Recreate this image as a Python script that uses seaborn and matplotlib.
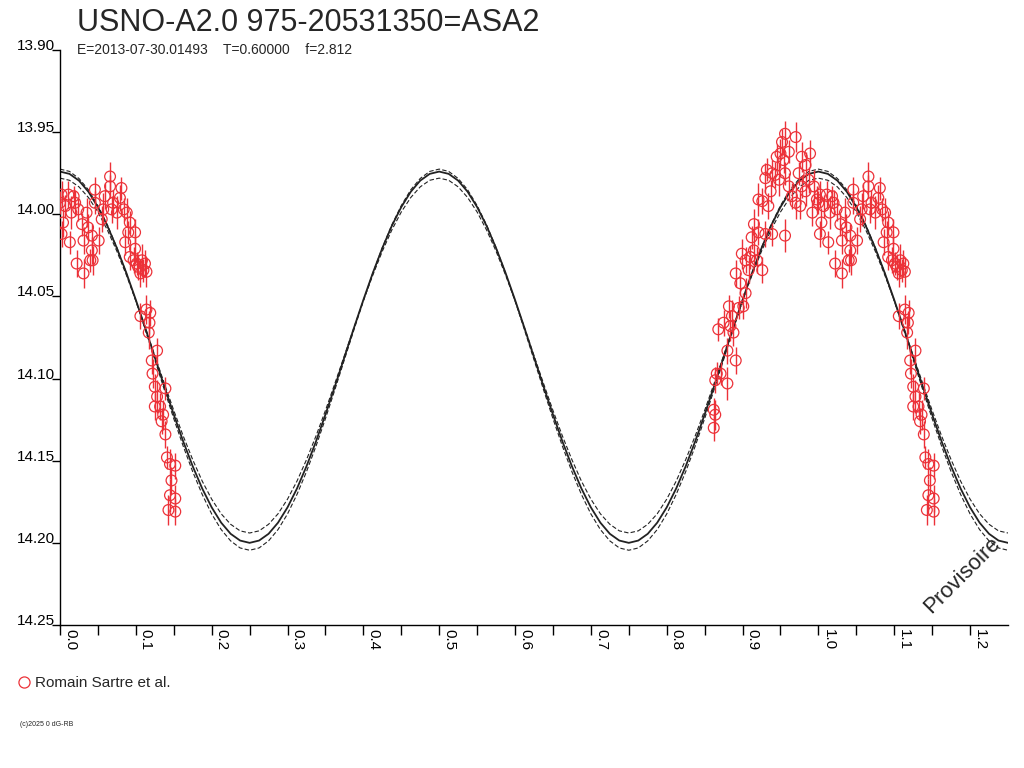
import matplotlib
matplotlib.use('Agg')
import matplotlib.pyplot as plt
import matplotlib.transforms as mtransforms
from matplotlib.lines import Line2D
import seaborn as sns
import numpy as np

# --- observations (phase, magnitude, error) ---
# points seen between phase 0.00 and 0.15 (also drawn again at +1)
phase_early = [0.000, 0.002, 0.011, 0.018, 0.004, 0.002, 0.013, 0.020, 0.015, 0.024,
               0.029, 0.035, 0.037, 0.031, 0.042, 0.022, 0.031, 0.040, 0.043, 0.046,
               0.046, 0.051, 0.057, 0.059, 0.066, 0.066, 0.070, 0.068, 0.075, 0.081,
               0.079, 0.084, 0.088, 0.092, 0.099, 0.086, 0.090, 0.099, 0.092, 0.097,
               0.101, 0.108, 0.112, 0.106, 0.110, 0.114, 0.103, 0.055, 0.007, 0.042,
               0.106, 0.114, 0.119, 0.118, 0.117, 0.128, 0.121, 0.122, 0.125, 0.139,
               0.128, 0.125, 0.132, 0.136, 0.134, 0.139, 0.141, 0.145, 0.152, 0.147,
               0.145, 0.152, 0.143, 0.152]
mag_early = [13.993, 13.988, 13.988, 13.989, 14.005, 14.012, 14.017, 13.993, 13.999, 13.997,
             14.006, 13.999, 14.008, 14.016, 14.013, 14.030, 14.036, 14.028, 14.028, 13.985,
             13.993, 14.016, 13.997, 13.989, 13.977, 13.983, 13.993, 13.997, 13.999, 13.984,
             13.990, 13.997, 13.999, 14.005, 14.011, 14.017, 14.011, 14.021, 14.026, 14.028,
             14.030, 14.028, 14.030, 14.036, 14.034, 14.035, 14.032, 14.003, 13.995, 14.022,
             14.062, 14.058, 14.060, 14.066, 14.072, 14.083, 14.089, 14.097, 14.105, 14.106,
             14.111, 14.117, 14.117, 14.122, 14.126, 14.134, 14.148, 14.152, 14.153, 14.162,
             14.171, 14.173, 14.180, 14.181]
err_early = [0.007, 0.008, 0.008, 0.006, 0.009, 0.008, 0.007, 0.008, 0.010, 0.007,
             0.007, 0.009, 0.008, 0.008, 0.007, 0.008, 0.009, 0.007, 0.009, 0.008,
             0.007, 0.008, 0.010, 0.008, 0.009, 0.007, 0.008, 0.008, 0.010, 0.007,
             0.008, 0.007, 0.009, 0.007, 0.008, 0.008, 0.007, 0.009, 0.008, 0.008,
             0.007, 0.010, 0.008, 0.008, 0.007, 0.009, 0.008, 0.008, 0.007, 0.008,
             0.008, 0.009, 0.008, 0.007, 0.010, 0.008, 0.008, 0.009, 0.008, 0.007,
             0.010, 0.008, 0.008, 0.009, 0.008, 0.008, 0.007, 0.009, 0.008, 0.008,
             0.010, 0.008, 0.009, 0.008]

# points seen between phase 0.86 and 1.00
phase_late = [0.862, 0.862, 0.864, 0.866, 0.864, 0.871, 0.880, 0.868, 0.875, 0.880,
              0.884, 0.882, 0.888, 0.891, 0.886, 0.895, 0.901, 0.904, 0.891, 0.897,
              0.908, 0.899, 0.904, 0.910, 0.915, 0.919, 0.926, 0.912, 0.915, 0.921,
              0.930, 0.939, 0.921, 0.926, 0.934, 0.930, 0.932, 0.939, 0.943, 0.948,
              0.937, 0.945, 0.950, 0.954, 0.961, 0.956, 0.952, 0.956, 0.970, 0.956,
              0.961, 0.965, 0.970, 0.974, 0.978, 0.983, 0.989, 0.978, 0.983, 0.976,
              0.987, 0.994, 0.992, 0.998]
mag_late = [14.130, 14.119, 14.122, 14.097, 14.101, 14.097, 14.103, 14.070, 14.066, 14.083,
            14.068, 14.056, 14.072, 14.089, 14.062, 14.057, 14.056, 14.048, 14.036, 14.042,
            14.034, 14.024, 14.028, 14.026, 14.022, 14.028, 14.034, 14.014, 14.006, 14.011,
            14.012, 14.012, 13.991, 13.992, 13.995, 13.978, 13.973, 13.975, 13.976, 13.979,
            13.986, 13.965, 13.963, 13.967, 13.962, 14.013, 13.956, 13.951, 13.953, 13.975,
            13.983, 13.989, 13.993, 13.975, 13.965, 13.970, 13.963, 13.983, 13.986, 13.995,
            13.979, 13.983, 13.999, 13.991]
err_late = [0.008, 0.007, 0.009, 0.007, 0.008, 0.007, 0.010, 0.007, 0.008, 0.008,
            0.009, 0.007, 0.008, 0.008, 0.010, 0.007, 0.008, 0.009, 0.008, 0.007,
            0.008, 0.009, 0.008, 0.007, 0.010, 0.008, 0.008, 0.007, 0.009, 0.008,
            0.008, 0.007, 0.010, 0.008, 0.008, 0.009, 0.007, 0.008, 0.008, 0.010,
            0.007, 0.008, 0.009, 0.008, 0.007, 0.010, 0.008, 0.008, 0.009, 0.007,
            0.008, 0.008, 0.010, 0.007, 0.009, 0.008, 0.008, 0.007, 0.009, 0.008,
            0.008, 0.010, 0.008, 0.008]

# --- model curves (every 0.0125 in phase, 0 .. 1.25) ---
model_phase = [0.0000, 0.0125, 0.0250, 0.0375, 0.0500, 0.0625, 0.0750, 0.0875, 0.1000, 0.1125,
               0.1250, 0.1375, 0.1500, 0.1625, 0.1750, 0.1875, 0.2000, 0.2125, 0.2250, 0.2375,
               0.2500, 0.2625, 0.2750, 0.2875, 0.3000, 0.3125, 0.3250, 0.3375, 0.3500, 0.3625,
               0.3750, 0.3875, 0.4000, 0.4125, 0.4250, 0.4375, 0.4500, 0.4625, 0.4750, 0.4875,
               0.5000, 0.5125, 0.5250, 0.5375, 0.5500, 0.5625, 0.5750, 0.5875, 0.6000, 0.6125,
               0.6250, 0.6375, 0.6500, 0.6625, 0.6750, 0.6875, 0.7000, 0.7125, 0.7250, 0.7375,
               0.7500, 0.7625, 0.7750, 0.7875, 0.8000, 0.8125, 0.8250, 0.8375, 0.8500, 0.8625,
               0.8750, 0.8875, 0.9000, 0.9125, 0.9250, 0.9375, 0.9500, 0.9625, 0.9750, 0.9875,
               1.0000, 1.0125, 1.0250, 1.0375, 1.0500, 1.0625, 1.0750, 1.0875, 1.1000, 1.1125,
               1.1250, 1.1375, 1.1500, 1.1625, 1.1750, 1.1875, 1.2000, 1.2125, 1.2250, 1.2375,
               1.2500]
# solid (central) curve
model_mid = [13.9740, 13.9754, 13.9795, 13.9863, 13.9956, 14.0071, 14.0206, 14.0357, 14.0521, 14.0693,
             14.0870, 14.1047, 14.1219, 14.1383, 14.1534, 14.1669, 14.1784, 14.1877, 14.1945, 14.1986,
             14.2000, 14.1986, 14.1945, 14.1877, 14.1784, 14.1669, 14.1534, 14.1383, 14.1219, 14.1047,
             14.0870, 14.0693, 14.0521, 14.0357, 14.0206, 14.0071, 13.9956, 13.9863, 13.9795, 13.9754,
             13.9740, 13.9754, 13.9795, 13.9863, 13.9956, 14.0071, 14.0206, 14.0357, 14.0521, 14.0693,
             14.0870, 14.1047, 14.1219, 14.1383, 14.1534, 14.1669, 14.1784, 14.1877, 14.1945, 14.1986,
             14.2000, 14.1986, 14.1945, 14.1877, 14.1784, 14.1669, 14.1534, 14.1383, 14.1219, 14.1047,
             14.0870, 14.0693, 14.0521, 14.0357, 14.0206, 14.0071, 13.9956, 13.9863, 13.9795, 13.9754,
             13.9740, 13.9754, 13.9795, 13.9863, 13.9956, 14.0071, 14.0206, 14.0357, 14.0521, 14.0693,
             14.0870, 14.1047, 14.1219, 14.1383, 14.1534, 14.1669, 14.1784, 14.1877, 14.1945, 14.1986,
             14.2000]
# dashed envelope, wide
model_hi = [13.9725, 13.9739, 13.9782, 13.9851, 13.9947, 14.0065, 14.0203, 14.0358, 14.0527, 14.0704,
            14.0885, 14.1067, 14.1244, 14.1412, 14.1567, 14.1705, 14.1824, 14.1919, 14.1988, 14.2031,
            14.2045, 14.2031, 14.1988, 14.1919, 14.1824, 14.1705, 14.1567, 14.1412, 14.1244, 14.1067,
            14.0885, 14.0704, 14.0527, 14.0358, 14.0203, 14.0065, 13.9947, 13.9851, 13.9782, 13.9739,
            13.9725, 13.9739, 13.9782, 13.9851, 13.9947, 14.0065, 14.0203, 14.0358, 14.0527, 14.0704,
            14.0885, 14.1067, 14.1244, 14.1412, 14.1567, 14.1705, 14.1824, 14.1919, 14.1988, 14.2031,
            14.2045, 14.2031, 14.1988, 14.1919, 14.1824, 14.1705, 14.1567, 14.1412, 14.1244, 14.1067,
            14.0885, 14.0704, 14.0527, 14.0358, 14.0203, 14.0065, 13.9947, 13.9851, 13.9782, 13.9739,
            13.9725, 13.9739, 13.9782, 13.9851, 13.9947, 14.0065, 14.0203, 14.0358, 14.0527, 14.0704,
            14.0885, 14.1067, 14.1244, 14.1412, 14.1567, 14.1705, 14.1824, 14.1919, 14.1988, 14.2031,
            14.2045]
# dashed envelope, narrow
model_lo = [13.9780, 13.9793, 13.9833, 13.9898, 13.9986, 14.0096, 14.0225, 14.0370, 14.0526, 14.0691,
            14.0860, 14.1029, 14.1194, 14.1350, 14.1494, 14.1624, 14.1734, 14.1823, 14.1887, 14.1927,
            14.1940, 14.1927, 14.1887, 14.1823, 14.1734, 14.1624, 14.1494, 14.1350, 14.1194, 14.1029,
            14.0860, 14.0691, 14.0526, 14.0370, 14.0225, 14.0096, 13.9986, 13.9898, 13.9833, 13.9793,
            13.9780, 13.9793, 13.9833, 13.9898, 13.9986, 14.0096, 14.0225, 14.0370, 14.0526, 14.0691,
            14.0860, 14.1029, 14.1194, 14.1350, 14.1494, 14.1624, 14.1734, 14.1823, 14.1887, 14.1927,
            14.1940, 14.1927, 14.1887, 14.1823, 14.1734, 14.1624, 14.1494, 14.1350, 14.1194, 14.1029,
            14.0860, 14.0691, 14.0526, 14.0370, 14.0225, 14.0096, 13.9986, 13.9898, 13.9833, 13.9793,
            13.9780, 13.9793, 13.9833, 13.9898, 13.9986, 14.0096, 14.0225, 14.0370, 14.0526, 14.0691,
            14.0860, 14.1029, 14.1194, 14.1350, 14.1494, 14.1624, 14.1734, 14.1823, 14.1887, 14.1927,
            14.1940]

y_ticks = [13.90, 13.95, 14.00, 14.05, 14.10, 14.15, 14.20, 14.25]
x_ticks = [0.0, 0.1, 0.2, 0.3, 0.4, 0.5, 0.6, 0.7, 0.8, 0.9, 1.0, 1.1, 1.2]

title = 'USNO-A2.0 975-20531350=ASA2'
subtitle = 'E=2013-07-30.01493    T=0.60000    f=2.812'
observer = 'Romain Sartre et al.'

RED = '#ec3138'
INK = '#222222'

sns.set_style('white')
plt.rcParams['font.family'] = ['Liberation Sans', 'DejaVu Sans']

fig = plt.figure(figsize=(10.24, 7.68), dpi=100)
ax = fig.add_axes([60 / 1024, 143 / 768, 948 / 1024, 575 / 768])

# model curves
for curve, ls, lw in [(model_hi, (0, (4, 2)), 0.8), (model_lo, (0, (4, 2)), 0.8),
                      (model_mid, '-', 1.3)]:
    sns.lineplot(x=model_phase, y=curve, ax=ax, color=INK, lw=lw, linestyle=ls,
                 sort=False, estimator=None)

# data: early phases are shown twice (phase and phase + 1)
ph = np.concatenate([phase_early, np.array(phase_early) + 1.0, phase_late])
mg = np.concatenate([mag_early, mag_early, mag_late])
er = np.concatenate([err_early, err_early, err_late])

ax.errorbar(ph, mg, yerr=er, fmt='none', ecolor=RED, elinewidth=1.0, capsize=0, zorder=3)
sns.scatterplot(x=ph, y=mg, ax=ax, marker='o', s=60, facecolors='none',
                edgecolor=RED, linewidth=0.9, zorder=4, legend=False)

ax.set_xlim(0, 1.25)
ax.set_ylim(14.25, 13.90)
sns.despine(ax=ax)
for side in ['left', 'bottom']:
    ax.spines[side].set_color('black')
    ax.spines[side].set_linewidth(1.0)

ax.set_yticks(y_ticks)
ax.set_yticklabels([f'{v:.2f}' for v in y_ticks], fontsize=11, va='baseline')
ax.tick_params(axis='y', direction='out', length=6, width=1, pad=-2.5, left=True, colors='black')

ax.set_xticks(x_ticks)
ax.set_xticks([0.05 + 0.1 * i for i in range(12)], minor=True)
ax.set_xticklabels([f'{v:.1f}' for v in x_ticks], fontsize=11, rotation=-90, ha='left', va='top')
ax.tick_params(axis='x', which='both', direction='out', length=7, width=1, pad=-4,
               bottom=True, colors='black')
shift = mtransforms.ScaledTranslation(3 / 100, 0, fig.dpi_scale_trans)
for lab in ax.get_xticklabels():
    lab.set_transform(lab.get_transform() + shift)

ax.set_xlabel('')
ax.set_ylabel('')
ax.grid(False)

fig.text(77 / 1024, 1 - 31 / 768, title, fontsize=22, va='baseline', ha='left')
fig.text(77 / 1024, 1 - 54 / 768, subtitle, fontsize=10, va='baseline', ha='left')
fig.text(962 / 1024, 1 - 575 / 768, 'Provisoire', fontsize=16, rotation=45,
         ha='center', va='center')

handle = Line2D([], [], marker='o', ls='none', mfc='none', mec=RED, ms=8, mew=0.9)
fig.legend(handles=[handle], labels=[observer], loc='center left',
           bbox_to_anchor=(18 / 1024, 1 - 683 / 768), frameon=False, fontsize=11,
           handlelength=0.8, handletextpad=0.3, borderpad=0, borderaxespad=0)

fig.text(20 / 1024, 1 - 725 / 768, '(c)2025 0 dG-RB', fontsize=5, va='center')

fig.savefig('out.png', dpi=100)
